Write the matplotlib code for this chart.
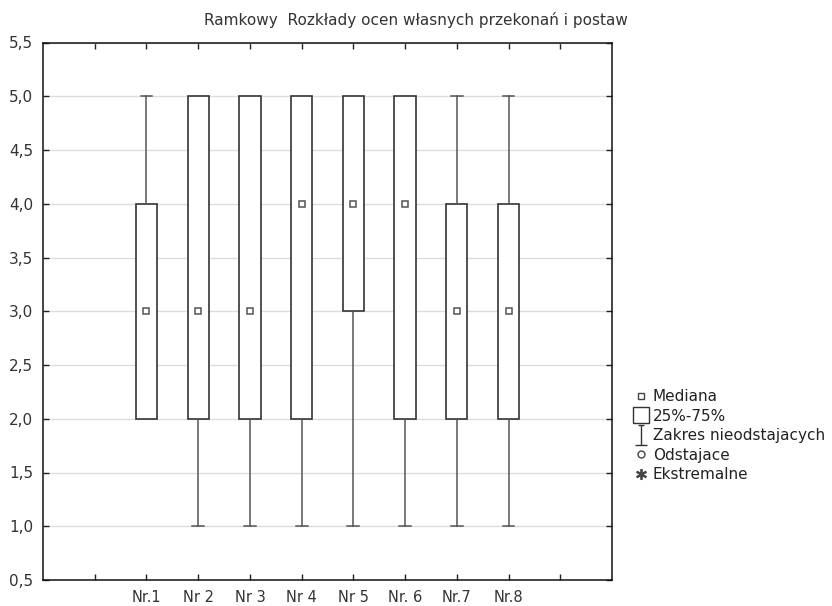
import matplotlib.pyplot as plt
from matplotlib.lines import Line2D
from matplotlib.path import Path

# Dane
etykiety = ['Nr.1', 'Nr 2', 'Nr 3', 'Nr 4', 'Nr 5', 'Nr. 6', 'Nr.7', 'Nr.8']
mediana = [3, 3, 3, 4, 4, 4, 3, 3]
q1 = [2, 2, 2, 2, 3, 2, 2, 2]
q3 = [4, 5, 5, 5, 5, 5, 4, 4]
minimum = [2, 1, 1, 1, 1, 1, 1, 1]
maksimum = [5, 5, 5, 5, 5, 5, 5, 5]

plt.rcParams.update({
    'font.family': ['DejaVu Sans'],
    'font.size': 10.5,
})

fig = plt.figure(figsize=(8.32, 6.06), dpi=100)
ax = fig.add_axes([43 / 832, 26 / 606, (612 - 43) / 832, (580 - 42.5) / 606])

stats = []
for i in range(len(etykiety)):
    stats.append({'med': mediana[i], 'q1': q1[i], 'q3': q3[i],
                  'whislo': minimum[i], 'whishi': maksimum[i],
                  'fliers': [], 'label': etykiety[i]})

pozycje = list(range(2, 2 + len(etykiety)))
ax.bxp(stats, positions=pozycje, widths=0.41, capwidths=0.23,
       showmeans=False, patch_artist=True,
       boxprops=dict(facecolor='white', edgecolor='#333333', linewidth=1.2),
       whiskerprops=dict(color='#555555', linewidth=1.1),
       capprops=dict(color='#555555', linewidth=1.1),
       medianprops=dict(linestyle='none'), zorder=3)

# mediany jako male kwadraty
ax.plot(pozycje, mediana, linestyle='none', marker='s', markersize=5,
        markerfacecolor='white', markeredgecolor='#555555',
        markeredgewidth=1.1, zorder=4)

ax.set_xlim(0, 11)
ax.set_ylim(0.5, 5.5)
ax.set_xticks(range(1, 11))
ax.set_xticklabels([''] + etykiety + [''], fontsize=10.5, color='#333333')
yt = [0.5 + 0.5 * k for k in range(11)]
ax.set_yticks(yt)
ax.set_yticklabels([f'{v:.1f}'.replace('.', ',') for v in yt], fontsize=11, color='#333333')
ax.tick_params(direction='in', top=True, right=True, length=4, width=1, color='#222222')
ax.tick_params(axis='y', pad=7)
ax.tick_params(axis='x', pad=7)
ax.grid(axis='y', color='#dcdcdc', linewidth=1, zorder=0)
ax.set_axisbelow(True)
for s in ax.spines.values():
    s.set_color('#111111')
    s.set_linewidth(1.1)

fig.text(0.5, 1 - 20 / 606, 'Ramkowy  Rozkłady ocen własnych przekonań i postaw',
         ha='center', va='center', fontsize=11, color='#333333')

# legenda
wasy = Path([(0, -1), (0, 1), (-0.6, -1), (0.6, -1), (-0.3, 1), (0.3, 1)],
            [Path.MOVETO, Path.LINETO, Path.MOVETO, Path.LINETO, Path.MOVETO, Path.LINETO])
uchwyty = [
    Line2D([], [], linestyle='none', marker='s', markersize=5, markerfacecolor='white',
           markeredgecolor='#444444', markeredgewidth=1),
    Line2D([], [], linestyle='none', marker='s', markersize=11, markerfacecolor='white',
           markeredgecolor='#333333', markeredgewidth=1),
    Line2D([], [], linestyle='none', marker=wasy, markersize=15, markerfacecolor='none',
           markeredgecolor='#333333', markeredgewidth=1),
    Line2D([], [], linestyle='none', marker='o', markersize=5, markerfacecolor='white',
           markeredgecolor='#444444', markeredgewidth=1),
    Line2D([], [], linestyle='none', marker='$*$', markersize=7, color='#444444'),
]
opisy = ['Mediana', '25%-75%', 'Zakres nieodstajacych', 'Odstajace', 'Ekstremalne']
fig.legend(uchwyty, opisy, loc='upper left', bbox_to_anchor=(633 / 832, 1 - 389 / 606),
           frameon=False, fontsize=11, handlelength=1.0, handletextpad=0.3,
           labelspacing=0.3, borderaxespad=0, borderpad=0, labelcolor='#222222')

plt.savefig('out.png', dpi=100)
